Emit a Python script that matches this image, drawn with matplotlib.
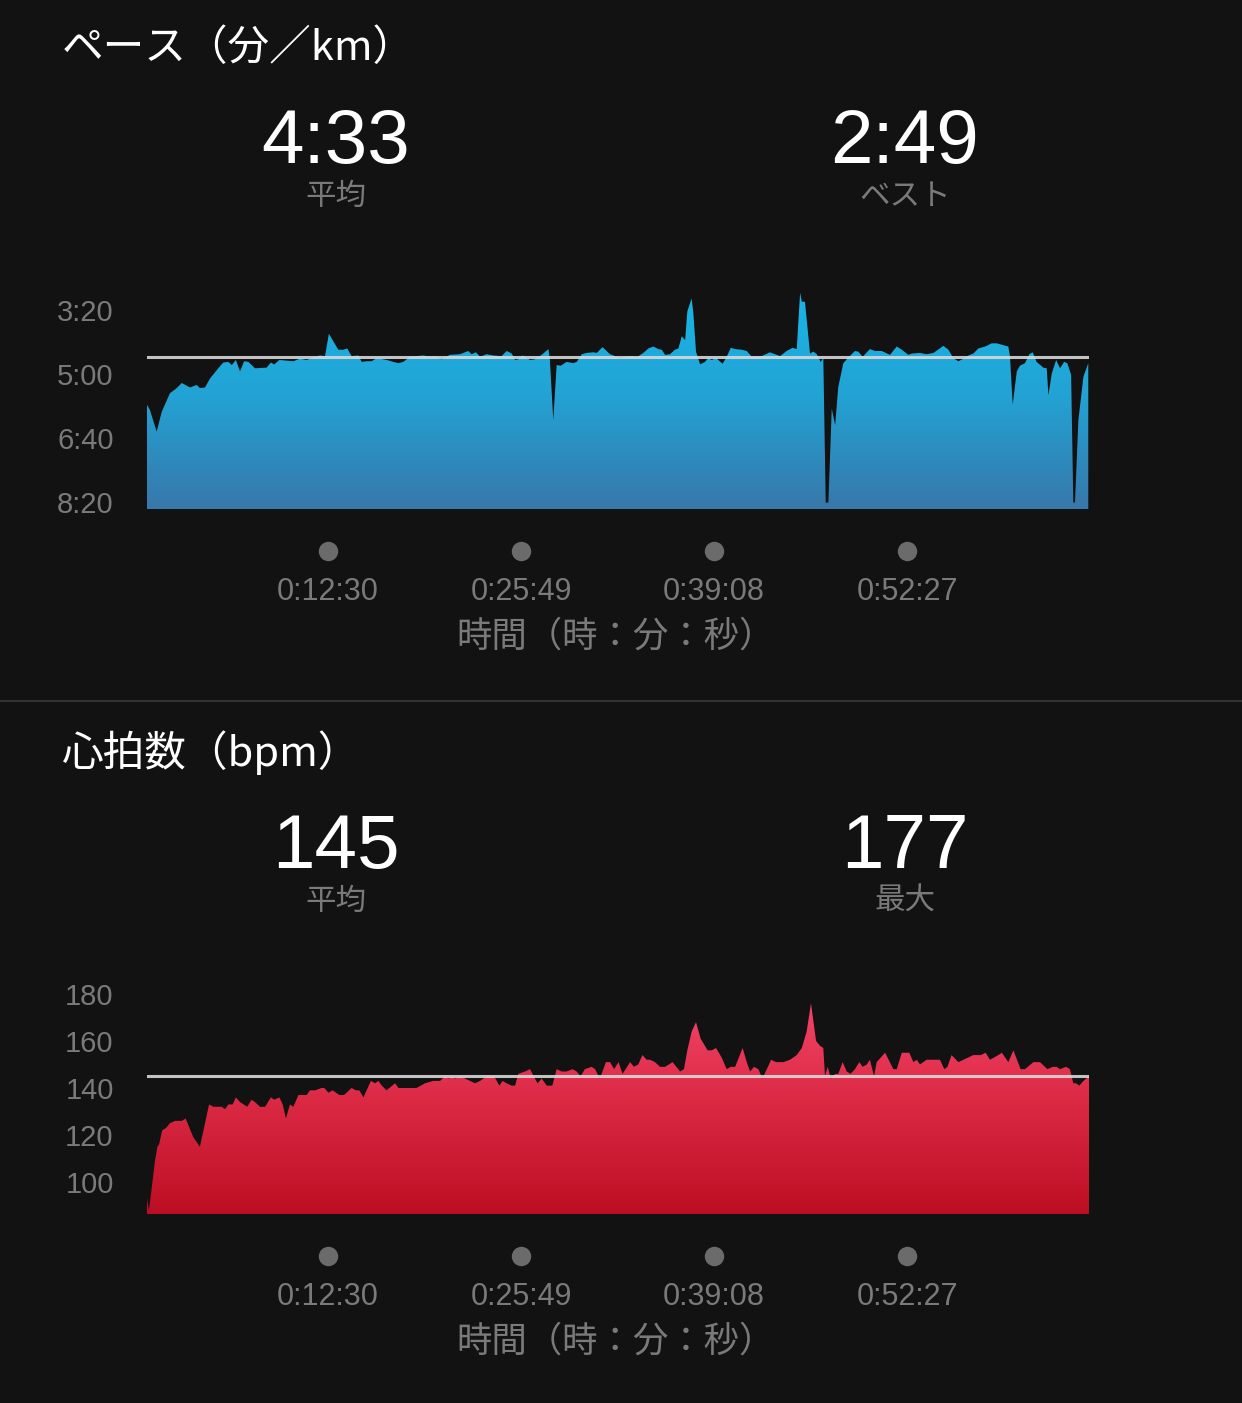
import numpy as np
import matplotlib
matplotlib.use("Agg")
import matplotlib.pyplot as plt
from matplotlib.colors import LinearSegmentedColormap
from matplotlib.lines import Line2D

plt.rcParams['font.family'] = ['Noto Sans CJK JP', 'DejaVu Sans']

# ---------------- data ----------------
# elapsed time (s) and pace (s per km)
pace_t = [0, 12, 40, 61, 95, 123, 144, 178, 206, 219, 240, 261, 295, 316, 337, 351, 368, 385,
          402, 420, 447, 495, 513, 527, 548, 606, 633, 661, 689, 716, 737, 753, 792, 813, 829,
          847, 875, 889, 909, 930, 951, 992, 1020, 1041, 1061, 1089, 1116, 1144, 1172, 1192,
          1220, 1254, 1296, 1330, 1344, 1362, 1379, 1406, 1434, 1468, 1489, 1510, 1524, 1537,
          1555, 1586, 1606, 1634, 1662, 1668, 1682, 1696, 1713, 1737, 1765, 1779, 1800, 1820,
          1848, 1862, 1886, 1917, 1958, 2000, 2027, 2055, 2076, 2096, 2117, 2131, 2145, 2165,
          2186, 2200, 2214, 2228, 2237, 2255, 2262, 2273, 2290, 2310, 2324, 2338, 2356, 2383,
          2400, 2417, 2435, 2462, 2483, 2504, 2545, 2579, 2621, 2648, 2673, 2690, 2697, 2704,
          2711, 2724, 2745, 2759, 2773, 2789, 2800, 2810, 2821, 2835, 2849, 2862, 2883, 2904,
          2931, 2945, 2963, 2993, 3014, 3042, 3076, 3104, 3125, 3152, 3166, 3200, 3228, 3256,
          3297, 3318, 3338, 3359, 3380, 3401, 3421, 3442, 3470, 3497, 3518, 3566, 3573, 3584,
          3601, 3614, 3635, 3653, 3667, 3683, 3711, 3725, 3732, 3746, 3764, 3780, 3797, 3810,
          3826, 3835, 3842, 3856, 3877, 3897]
pace_s = [348, 356, 390, 359, 330, 322, 314, 321, 317, 322, 321, 307, 291, 282, 281, 286, 278, 296,
          280, 281, 291, 290, 282, 285, 278, 280, 276, 278, 274, 271, 272, 237, 262, 262, 260,
          272, 271, 281, 280, 280, 275, 278, 281, 283, 281, 273, 272, 271, 273, 272,
          277, 270, 269, 264, 269, 266, 273, 269, 271, 272, 264, 268, 278, 277,
          271, 278, 277, 270, 261, 278, 372, 286, 287, 281, 283, 281, 269, 267,
          266, 267, 258, 269, 275, 272, 274, 267, 260, 257, 261, 262, 270, 269,
          262, 260, 241, 247, 202, 182, 205, 265, 285, 281, 275, 278, 275, 284,
          273, 259, 261, 262, 264, 273, 272, 266, 272, 264, 259, 261, 216, 173,
          187, 187, 268, 265, 269, 281, 275, 501, 501, 354, 380, 320, 283, 274,
          264, 265, 273, 261, 264, 264, 270, 257, 262, 270, 268, 267, 269, 267,
          256, 262, 275, 280, 276, 271, 268, 260, 257, 252, 252, 257, 273, 348,
          296, 287, 283, 269, 266, 281, 290, 291, 333, 299, 278, 291, 281, 283,
          301, 501, 501, 372, 304, 283]

# elapsed time (s) and heart rate (bpm)
hr_t = [0, 8, 19, 33, 43, 50, 63, 79, 95, 116, 144, 160, 192, 219, 257, 275, 309, 323, 337, 355,
        368, 385, 415, 433, 447, 468, 489, 513, 527, 548, 562, 575, 592, 606, 627, 647, 661,
        675, 696, 723, 734, 751, 769, 796, 816, 847, 865, 879, 896, 927, 944, 958, 972, 992,
        1027, 1041, 1054, 1068, 1089, 1116, 1151, 1185, 1213, 1234, 1248, 1261, 1275, 1296,
        1317, 1358, 1379, 1406, 1437, 1459, 1472, 1489, 1510, 1524, 1537, 1565, 1586, 1606,
        1617, 1634, 1655, 1678, 1696, 1717, 1737, 1762, 1779, 1795, 1813, 1841, 1855, 1875,
        1900, 1917, 1934, 1952, 1969, 2000, 2016, 2034, 2051, 2069, 2083, 2103, 2124, 2145,
        2176, 2207, 2223, 2237, 2255, 2273, 2292, 2321, 2338, 2356, 2379, 2400, 2417, 2435,
        2466, 2483, 2497, 2513, 2531, 2548, 2566, 2584, 2604, 2635, 2662, 2690, 2711, 2731,
        2749, 2770, 2786, 2800, 2807, 2818, 2831, 2849, 2862, 2880, 2897, 2913, 2931, 2949,
        2963, 2980, 2993, 3010, 3021, 3056, 3090, 3104, 3125, 3156, 3173, 3187, 3200, 3228,
        3256, 3283, 3301, 3314, 3331, 3359, 3401, 3421, 3442, 3453, 3472, 3490, 3525, 3539,
        3566, 3587, 3617, 3635, 3670, 3697, 3728, 3750, 3766, 3780, 3805, 3821, 3835, 3846,
        3860, 3877, 3900]
hr_bpm = [93, 88, 97, 109, 115, 116, 122, 123, 125, 126, 126, 127, 119, 115, 133, 132, 132, 131,
          133, 133, 136, 134, 132, 135, 134, 132, 132, 136, 135, 136, 133, 127, 133, 132, 137,
          137, 137, 139, 139, 140, 140, 138, 139, 137, 137, 140, 139, 139, 136, 143, 142, 143,
          141, 139, 142, 140, 140, 140, 140, 140, 142, 143, 143, 145, 144, 145, 144, 145, 144,
          142, 143, 145, 145, 141, 143, 142, 141, 141, 146, 147, 148, 144, 142, 144, 141, 141,
          148, 147, 147, 148, 147, 145, 148, 149, 148, 144, 151, 151, 148, 151, 146, 151, 149,
          150, 154, 152, 152, 151, 149, 149, 151, 147, 148, 156, 164, 168, 161, 156, 156, 157,
          153, 148, 149, 149, 157, 151, 147, 149, 148, 144, 148, 152, 151, 151, 152, 154, 157,
          164, 176, 160, 158, 157, 145, 149, 144, 146, 146, 151, 147, 146, 148, 151, 149, 150,
          152, 145, 151, 155, 148, 148, 155, 155, 151, 152, 150, 152, 152, 152, 148, 149, 154,
          151, 153, 154, 154, 154, 155, 152, 154, 155, 151, 156, 148, 148, 151, 151, 148, 149,
          149, 148, 149, 148, 142, 142, 141, 143, 145]

pace_avg, pace_best = 273, 169        # 4:33, 2:49
hr_avg, hr_max = 145, 177

time_ticks = [750, 1549, 2348, 3147]
time_labels = ["0:12:30", "0:25:49", "0:39:08", "0:52:27"]
pace_ticks = [200, 300, 400, 500]
pace_tick_labels = ["3:20", "5:00", "6:40", "8:20"]
hr_ticks = [100, 120, 140, 160, 180]

# ---------------- style ----------------
W, H = 1242, 1403
BG = '#121212'
GREY = '#7a7a7a'
NUM_FONT = ['Liberation Sans', 'DejaVu Sans']
blue_cmap = LinearSegmentedColormap.from_list('pace', ['#3877aa', '#22a3d4', '#17b8e9'])
red_cmap = LinearSegmentedColormap.from_list('hr', ['#bc0e23', '#dc2a45', '#f74a70'])


def mmss(sec):
    return f"{int(sec) // 60}:{int(sec) % 60:02d}"


def px_axes(left, top, right, bottom):
    return [left / W, 1 - bottom / H, (right - left) / W, (bottom - top) / H]


def gradient_area(ax, x, y, base, cmap, ylim):
    poly = ax.fill_between(x, y, base, color='none', linewidth=0)
    grad = np.linspace(0, 1, 256).reshape(-1, 1)
    # bright end at the top of the axes
    im = ax.imshow(grad, cmap=cmap, aspect='auto', origin='lower',
                   extent=(x[0], x[-1], ylim[0], ylim[1]),
                   interpolation='bicubic', zorder=1)
    im.set_clip_path(poly.get_paths()[0], transform=ax.transData)


def panel(ax, x, y, ylim, base, cmap, avg, yticks, yticklabels):
    ax.set_facecolor(BG)
    gradient_area(ax, x, y, base, cmap, ylim)
    ax.axhline(avg, color='#d8d8d8', lw=2.2, alpha=0.9, zorder=3)
    ax.set_xlim(0, 3900)
    ax.set_ylim(*ylim)
    for s in ax.spines.values():
        s.set_visible(False)
    ax.set_xticks([])
    ax.set_yticks(yticks, yticklabels)
    ax.tick_params(axis='y', length=0, pad=24, labelsize=21, labelcolor=GREY,
                   labelfontfamily='Liberation Sans')

    # time markers: grey dots with labels underneath
    tr = ax.get_xaxis_transform()
    ax.plot(time_ticks, [-0.183] * len(time_ticks), 'o', color='#6b6b6b', ms=14,
            mec='none', transform=tr, clip_on=False)
    for t, lab in zip(time_ticks, time_labels):
        ax.text(t, -0.397, lab, color=GREY, fontsize=22, ha='center', va='baseline',
                transform=tr, family=NUM_FONT)
    ax.text((456 - 147) / 942, -0.555, "時間（時：分：秒）", color=GREY, fontsize=25.5,
            ha='left', va='center', transform=ax.transAxes)


fig = plt.figure(figsize=(W / 100, H / 100), dpi=100, facecolor=BG)


def header(top, title, left_val, left_lab, right_val, right_lab):
    fig.text(62 / W, 1 - (top + 48) / H, title, color='white', fontsize=30, va='center')
    for xc, val, lab in [(336, left_val, left_lab), (905, right_val, right_lab)]:
        fig.text(xc / W, 1 - (top + 163) / H, val, color='white', fontsize=55,
                 ha='center', va='baseline', family=NUM_FONT)
        fig.text(xc / W, 1 - (top + 196) / H, lab, color=GREY, fontsize=22,
                 ha='center', va='center')


# ---------------- pace ----------------
header(0, "ペース（分／km）", mmss(pace_avg), "平均", mmss(pace_best), "ベスト")
ax1 = fig.add_axes(px_axes(147, 280, 1089, 509))
panel(ax1, pace_t, pace_s, (511, 153), 511, blue_cmap, pace_avg, pace_ticks, pace_tick_labels)

# separator
fig.add_artist(Line2D([0, 1], [1 - 701 / H] * 2, color='#3a3a3a', lw=1.2, transform=fig.transFigure))

# ---------------- heart rate ----------------
header(705, "心拍数（bpm）", str(hr_avg), "平均", str(hr_max), "最大")
ax2 = fig.add_axes(px_axes(147, 985, 1089, 1214))
panel(ax2, hr_t, hr_bpm, (86.4, 183.8), 86.4, red_cmap, hr_avg, hr_ticks, [str(v) for v in hr_ticks])

fig.savefig("out.png", dpi=100, facecolor=BG)
